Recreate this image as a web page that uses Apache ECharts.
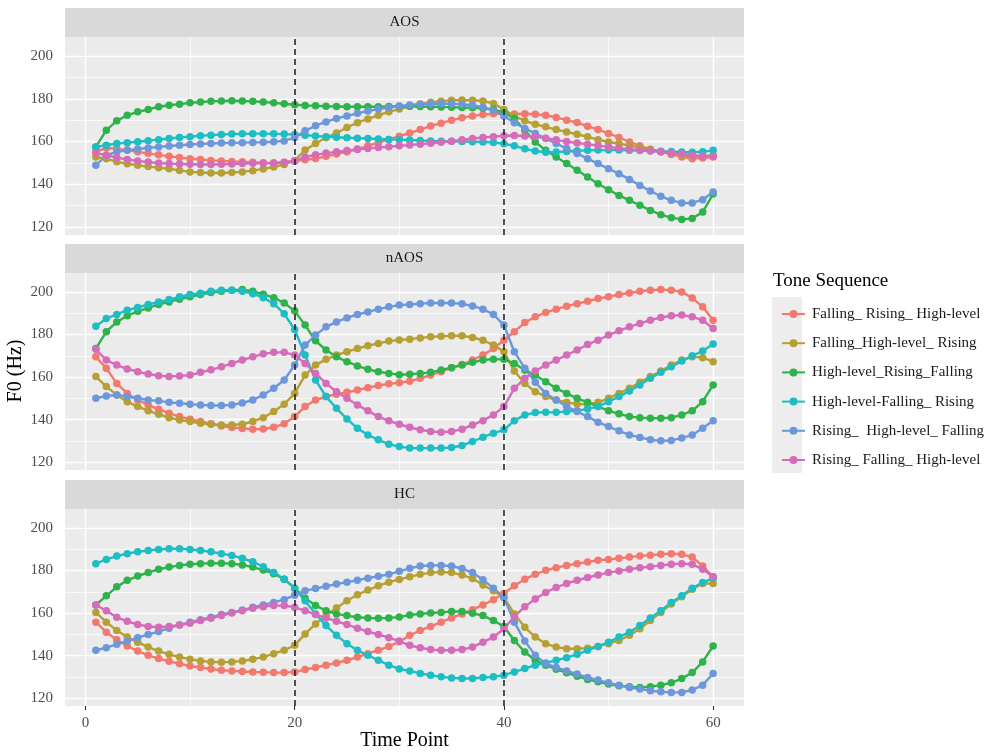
<!DOCTYPE html>
<html><head><meta charset="utf-8">
<script src="https://cdn.jsdelivr.net/npm/echarts@6.0.0/dist/echarts.min.js"></script>
<style>html,body{margin:0;padding:0;background:#fff}#chart{width:1004px;height:752px}</style>
</head><body><div id="chart"></div>
<script>
const timePoints = [1,2,3,4,5,6,7,8,9,10,11,12,13,14,15,16,17,18,19,20,21,22,23,24,25,26,27,28,29,30,31,32,33,34,35,36,37,38,39,40,41,42,43,44,45,46,47,48,49,50,51,52,53,54,55,56,57,58,59,60];
const seriesNames = ['Falling_ Rising_ High-level','Falling_High-level_ Rising','High-level_Rising_Falling','High-level-Falling_ Rising','Rising_  High-level_ Falling','Rising_ Falling_ High-level'];
const panelNames = ['AOS','nAOS','HC'];
const yTicks = [120,140,160,180,200];
const yMinorTicks = [130,150,170,190];
const xTicks = [0,20,40,60];
const xMinorTicks = [10,30,50];
const boundaryLines = [20,40];

// ---- AOS ----
const AOS_FRH = [155.2,157.0,156.7,156.0,155.2,154.5,153.8,153.1,152.5,152.0, 151.6,151.2,150.9,150.7,150.5,150.3,150.1,150.0,150.2,151.0, 151.5,152.1,153.1,154.2,155.2,156.5,158.0,159.5,161.0,162.5, 164.0,165.6,167.3,168.6,170.0,171.1,172.0,172.6,173.0,173.0, 172.9,173.0,172.8,172.3,171.3,170.0,168.9,167.2,165.6,163.8, 161.9,159.8,158.0,156.4,155.2,154.0,152.8,152.0,152.3,152.8];
const AOS_FHR = [152.8,152.0,150.5,149.6,148.9,148.3,147.8,147.3,146.5,145.8, 145.5,145.3,145.3,145.5,145.8,146.4,147.2,148.1,149.3,151.2, 156.0,159.1,161.8,164.0,166.6,168.8,170.6,172.3,173.9,175.2, 176.5,177.6,178.4,178.9,179.3,179.4,179.3,179.0,177.8,175.0, 171.9,169.7,168.1,166.9,165.6,164.5,163.4,162.2,160.9,159.8, 159.1,158.1,157.2,156.3,155.2,154.4,153.6,153.1,153.1,153.6];
const AOS_HRF = [157.5,165.3,169.7,172.3,173.9,175.0,176.3,177.0,177.5,178.1, 178.5,178.8,179.0,179.1,179.0,178.8,178.5,178.1,177.7,177.2, 176.9,176.7,176.5,176.4,176.3,176.3,176.3,176.3,176.4,176.5, 176.5,176.4,176.3,176.2,176.0,175.9,175.8,175.6,175.0,173.5, 170.8,165.3,159.8,155.9,152.8,149.7,146.6,143.4,140.3,137.5, 134.8,132.5,130.2,127.8,125.8,124.4,123.6,124.0,127.0,135.5];
const AOS_HFR = [157.5,158.3,159.1,159.5,159.9,160.4,160.9,161.4,161.9,162.3, 162.7,163.0,163.3,163.5,163.6,163.7,163.7,163.6,163.5,163.3, 163.0,162.6,162.3,162.0,161.8,161.6,161.4,161.2,161.0,160.9, 160.7,160.5,160.3,160.2,160.1,160.0,159.9,159.8,159.6,159.0, 158.0,156.6,155.6,155.0,155.1,155.4,155.7,155.9,156.0,156.0, 156.0,155.9,155.8,155.7,155.5,155.3,155.1,155.0,155.2,155.9];
const AOS_RHF = [148.9,153.6,155.2,155.9,156.5,157.0,157.5,157.9,158.3,158.6, 158.9,159.1,159.3,159.4,159.5,159.6,159.7,159.9,160.3,161.8, 165.0,167.4,169.2,170.8,172.0,173.2,174.3,175.2,175.9,176.6, 177.1,177.5,177.7,177.8,177.7,177.4,177.0,176.0,174.5,172.0, 168.8,166.1,163.8,161.4,159.1,156.7,154.4,152.0,149.7,147.3, 145.0,142.3,139.5,136.9,134.4,132.5,131.3,131.3,132.8,136.4];
const AOS_RFH = [154.7,153.6,152.5,151.6,150.9,150.4,150.0,149.7,149.5,149.4, 149.3,149.3,149.4,149.5,149.7,149.8,149.9,150.0,150.3,150.8, 152.8,153.8,154.6,155.2,155.8,156.3,156.8,157.2,157.6,158.0, 158.4,158.8,159.2,159.7,160.2,160.8,161.4,161.9,162.3,162.7, 162.8,162.6,162.2,161.6,160.8,160.0,159.3,158.8,158.1,157.5, 156.9,156.4,156.0,155.6,155.2,154.7,154.2,153.6,153.3,153.1];

// ---- nAOS ----
const nAOS_FRH = [169.5,164.1,157.0,152.3,149.2,146.9,144.8,143.0,141.4,140.2, 139.1,138.0,137.0,136.3,135.8,135.5,135.6,136.4,138.0,141.4, 146.1,149.2,150.8,151.9,152.8,153.9,155.0,156.0,156.8,157.3, 158.0,159.4,160.9,162.5,164.4,165.9,168.0,170.3,173.4,177.3, 181.3,185.6,188.3,190.3,191.9,193.3,194.5,195.6,196.9,197.7, 198.8,199.5,200.3,200.8,201.1,200.8,200.0,197.2,193.0,186.7];
const nAOS_FHR = [160.2,155.5,151.6,148.4,146.1,144.2,142.5,140.9,139.8,139.1, 138.3,137.8,137.5,137.5,137.8,139.1,140.9,143.8,147.2,152.3, 160.9,165.6,168.3,170.3,171.9,173.4,174.7,175.8,176.9,177.4, 177.8,178.4,178.9,179.2,179.4,179.4,178.6,177.3,175.0,171.9, 162.8,157.0,153.1,150.8,149.2,148.1,147.3,147.2,148.1,150.0, 152.3,154.7,157.5,160.2,162.8,165.6,168.0,169.5,169.1,167.2];
const nAOS_HRF = [173.4,181.3,185.9,188.8,190.9,192.5,194.1,195.3,196.6,197.7, 198.8,199.7,200.3,200.8,201.1,200.3,198.9,197.3,194.8,191.1, 184.4,177.0,172.7,169.5,167.2,165.2,163.6,162.5,161.7,161.1, 161.3,161.7,162.2,163.3,164.4,165.6,166.9,168.0,168.4,168.3, 166.4,163.3,160.9,157.8,154.7,152.3,150.0,148.1,146.1,144.2, 142.7,141.4,140.9,140.6,140.6,140.9,142.2,144.1,148.4,156.3];
const nAOS_HFR = [183.9,187.5,189.4,191.4,192.7,194.1,195.3,196.4,197.7,198.8, 199.4,200.3,200.8,200.8,200.3,199.2,197.3,194.5,189.8,182.3, 170.3,158.6,150.8,145.3,140.3,135.9,132.8,130.5,128.4,127.3, 126.6,126.6,126.6,126.6,126.9,127.8,129.7,131.7,133.6,135.2, 139.5,142.2,143.3,143.4,143.4,143.8,144.2,145.0,146.1,148.4, 150.8,153.4,156.3,159.4,162.2,164.8,167.5,170.0,172.2,175.5];
const nAOS_RHF = [150.0,151.1,151.6,150.8,150.0,149.2,148.8,148.1,147.7,147.2, 146.9,146.6,146.6,146.9,147.8,149.2,151.6,154.7,158.6,165.6, 175.0,179.7,183.6,185.9,187.8,189.4,190.6,191.9,193.0,193.8, 194.1,194.5,194.8,194.8,194.8,194.4,193.4,191.9,189.4,184.4, 171.9,164.1,157.5,152.3,149.2,146.1,143.8,141.4,138.8,136.7, 134.7,132.8,131.6,130.5,130.0,130.2,131.3,132.8,135.9,139.5];
const nAOS_RFH = [173.0,168.0,165.6,163.8,162.5,161.4,160.6,160.3,160.5,160.9, 162.2,163.4,164.8,166.4,168.0,169.5,170.9,171.6,171.6,170.3, 166.4,161.7,157.0,153.1,150.0,146.9,144.1,141.4,139.4,137.8, 136.4,135.2,134.4,134.1,134.4,135.5,137.5,139.5,142.2,146.1, 154.7,159.4,162.8,165.6,168.0,170.3,172.7,175.3,177.3,179.7, 181.7,183.6,185.2,186.7,188.0,188.8,189.1,188.3,186.7,182.8];

// ---- HC ----
const HC_FRH = [155.7,151.0,147.4,144.5,142.1,140.1,138.6,137.3,136.2,135.1, 134.4,133.7,133.1,132.8,132.5,132.3,132.2,132.0,132.0,132.3, 133.4,134.4,135.5,136.5,137.8,139.3,140.9,142.5,144.3,146.5, 149.5,151.8,153.7,155.7,157.7,159.6,161.6,163.8,166.3,169.2, 172.8,175.9,178.2,180.1,181.3,182.4,183.2,184.0,184.8,185.2, 185.7,186.3,186.8,187.2,187.6,187.9,187.6,186.3,182.1,177.0];
const HC_FHR = [160.3,155.7,151.8,148.7,146.3,144.0,142.1,140.6,139.3,138.3, 137.5,137.0,136.9,137.0,137.5,138.3,139.3,140.9,142.5,144.8, 150.2,154.9,158.8,162.4,165.8,168.6,170.8,172.8,174.5,175.8, 177.0,178.2,179.0,179.3,179.0,177.9,176.2,173.2,170.5,167.3, 159.6,153.3,148.7,145.6,144.0,143.2,143.2,143.5,144.3,145.6, 147.1,149.5,152.6,156.5,160.3,164.2,167.7,171.2,173.9,173.9];
const HC_HRF = [163.8,168.1,172.3,175.4,177.4,179.0,180.6,181.6,182.4,182.9, 183.2,183.4,183.4,183.2,182.6,181.6,180.2,178.5,175.9,171.7, 167.0,163.5,161.1,159.6,158.8,158.0,157.7,157.5,157.7,158.1, 159.1,159.6,160.0,160.3,160.7,160.7,159.9,158.8,156.5,153.7, 147.1,141.7,137.8,135.5,133.6,131.9,130.3,128.8,127.7,126.6, 125.8,125.4,125.0,125.4,126.1,127.2,129.2,132.0,137.0,144.5];
const HC_HFR = [183.2,185.2,186.8,187.9,188.8,189.4,189.9,190.2,190.2,189.9, 189.4,188.8,187.9,187.1,185.7,184.1,181.8,179.0,175.9,171.7, 165.8,159.6,154.1,149.5,145.6,142.5,140.1,137.8,135.5,133.7, 132.8,131.6,130.8,130.0,129.5,129.2,129.2,129.7,130.0,130.8, 132.3,133.9,135.5,136.5,137.8,139.0,140.6,142.5,144.3,146.3, 148.7,151.0,154.1,157.7,161.1,165.0,168.1,171.7,174.3,176.4];
const HC_RHF = [142.5,143.7,145.3,146.8,148.4,149.9,151.3,152.9,154.4,155.7, 156.9,158.0,159.3,160.3,161.4,162.7,163.8,165.0,166.3,168.4, 170.5,171.5,172.6,173.6,174.5,175.4,176.4,177.3,178.2,179.6, 181.0,182.1,182.4,182.4,182.1,180.9,179.0,175.6,171.7,167.3, 155.7,146.8,140.1,136.2,134.4,132.8,131.3,129.7,128.5,127.2, 126.1,125.0,124.3,123.5,123.0,122.7,122.7,123.8,126.1,131.6];
const HC_RFH = [163.8,161.1,158.0,156.1,154.6,153.7,153.3,153.7,154.4,155.2, 156.5,157.5,158.8,160.0,161.1,162.2,163.0,163.5,163.5,162.7, 161.1,159.3,157.7,156.1,154.6,152.9,151.3,149.9,148.4,146.8, 144.8,143.7,142.8,142.5,142.5,142.8,144.0,146.3,148.7,152.6, 158.3,163.0,166.6,169.7,172.0,173.9,175.4,176.7,177.9,179.0, 179.8,180.6,181.3,181.8,182.4,182.9,183.2,182.9,180.6,177.0];

const panelData = [
  [AOS_FRH, AOS_FHR, AOS_HRF, AOS_HFR, AOS_RHF, AOS_RFH],
  [nAOS_FRH, nAOS_FHR, nAOS_HRF, nAOS_HFR, nAOS_RHF, nAOS_RFH],
  [HC_FRH, HC_FHR, HC_HRF, HC_HFR, HC_RHF, HC_RFH]
];

const colors = ['#F3786D','#B7A033','#2DB34A','#1DBDC4','#6C97DA','#D56CBA'];
const FONT = '"Liberation Serif", "Times New Roman", serif';
const PLOT_LEFT = 65, PLOT_WIDTH = 679;
const panelBoxes = [{top:37,height:198,strip:8},{top:273,height:197,strip:244},{top:509,height:197,strip:480}];

const chart = echarts.init(document.getElementById('chart'), null, {renderer:'canvas'});

const grid = panelBoxes.map(b => ({left:PLOT_LEFT, width:PLOT_WIDTH, top:b.top, height:b.height, show:true, backgroundColor:'#EBEBEB', borderWidth:0, containLabel:false, z:0}));
const xAxis = panelBoxes.map((b,i) => ({
  type:'value', gridIndex:i, min:-1.95, max:62.95,
  axisLine:{show:false}, splitLine:{show:false},
  axisTick:{show:i===2, customValues:xTicks, length:4, lineStyle:{color:'#333', width:1.1}},
  axisLabel:{show:i===2, customValues:xTicks, color:'#4D4D4D', fontFamily:FONT, fontSize:15, margin:10}
}));
const yAxis = panelBoxes.map((b,i) => ({
  type:'value', gridIndex:i, min:116.3, max:208.9,
  axisLine:{show:false}, splitLine:{show:false},
  axisTick:{show:true, customValues:yTicks, length:4, lineStyle:{color:'#333', width:1.1}},
  axisLabel:{show:true, customValues:yTicks, color:'#4D4D4D', fontFamily:FONT, fontSize:15, margin:12}
}));

const series = [];
panelBoxes.forEach((b,i) => {
  const gridLines = []
    .concat(yMinorTicks.map(v => ({yAxis:v, lineStyle:{width:0.7}})))
    .concat(xMinorTicks.map(v => ({xAxis:v, lineStyle:{width:0.7}})))
    .concat(yTicks.map(v => ({yAxis:v, lineStyle:{width:1.4}})))
    .concat(xTicks.map(v => ({xAxis:v, lineStyle:{width:1.4}})));
  series.push({
    type:'line', xAxisIndex:i, yAxisIndex:i, data:[], z:1, silent:true, animation:false,
    markLine:{z:1, silent:true, animation:false, symbol:['none','none'], label:{show:false},
      lineStyle:{color:'#FFFFFF', type:'solid'}, emphasis:{disabled:true}, data:gridLines}
  });
  panelData[i].forEach((vals, s) => {
    series.push({
      type:'line', name:seriesNames[s], xAxisIndex:i, yAxisIndex:i,
      data: timePoints.map((t,k) => [t, vals[k]]),
      symbol:'circle', symbolSize:7.5, showSymbol:true, showAllSymbol:true,
      lineStyle:{width:2.4, color:colors[s], type:'solid'},
      itemStyle:{color:colors[s], borderWidth:0, opacity:1},
      z:3, animation:false, emphasis:{disabled:true}
    });
  });
  series.push({
    type:'line', xAxisIndex:i, yAxisIndex:i, data:[], z:6, silent:true, animation:false,
    markLine:{z:6, silent:true, animation:false, symbol:['none','none'], label:{show:false},
      lineStyle:{color:'#262626', type:[6,4], width:1.6}, emphasis:{disabled:true},
      data: boundaryLines.map(v => ({xAxis:v}))}
  });
});

const graphic = [];
panelBoxes.forEach((b,i) => {
  graphic.push({type:'rect', shape:{x:PLOT_LEFT, y:b.strip, width:PLOT_WIDTH, height:b.top-b.strip}, style:{fill:'#D9D9D9'}, silent:true});
  graphic.push({type:'text', x:PLOT_LEFT+PLOT_WIDTH/2, y:(b.strip+b.top)/2, style:{text:panelNames[i], font:'15px '+FONT, fill:'#1A1A1A', textAlign:'center', textVerticalAlign:'middle'}, silent:true});
});
graphic.push({type:'text', x:PLOT_LEFT+PLOT_WIDTH/2, y:741, style:{text:'Time Point', font:'20px '+FONT, fill:'#000', textAlign:'center', textVerticalAlign:'middle'}, silent:true});
graphic.push({type:'text', x:16, y:371, rotation:Math.PI/2, style:{text:'F0 (Hz)', font:'20px '+FONT, fill:'#000', textAlign:'center', textVerticalAlign:'middle'}, silent:true});
graphic.push({type:'text', x:773, y:281, style:{text:'Tone Sequence', font:'19px '+FONT, fill:'#000', textAlign:'left', textVerticalAlign:'middle'}, silent:true});
graphic.push({type:'rect', shape:{x:772, y:297, width:30, height:176}, style:{fill:'#EDEDED'}, silent:true, z:-1});

chart.setOption({
  animation:false,
  backgroundColor:'#FFFFFF',
  grid, xAxis, yAxis, series, graphic,
  legend:{
    orient:'vertical', left:776, top:301, itemWidth:23, itemHeight:10, itemGap:13.2,
    selectedMode:false, data:seriesNames,
    textStyle:{fontFamily:FONT, fontSize:15, color:'#1A1A1A', lineHeight:16, padding:[0,0,0,2]}
  }
});
</script></body></html>
